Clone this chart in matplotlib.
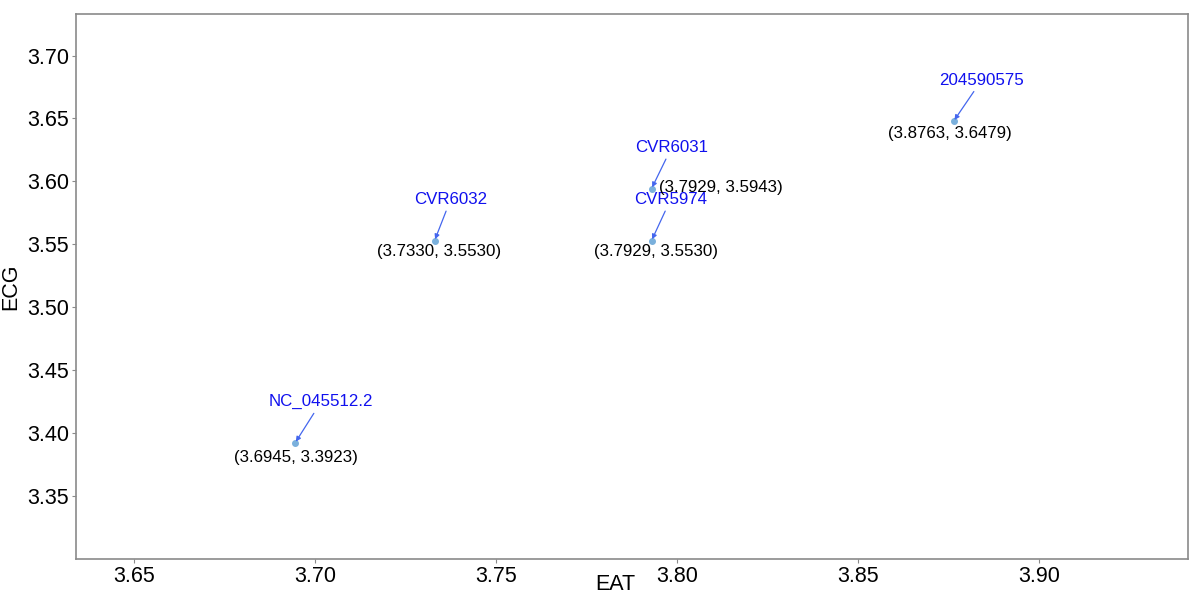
import matplotlib.pyplot as plt

plt.rcParams['font.family'] = ['Liberation Sans', 'DejaVu Sans']

# samples: EAT on x, ECG on y
names = ['NC_045512.2', 'CVR6032', 'CVR5974', 'CVR6031', '204590575']
eat = [3.6945, 3.7330, 3.7929, 3.7929, 3.8763]
ecg = [3.3923, 3.5530, 3.5530, 3.5943, 3.6479]

# label offsets in pixels (name label, coordinate label)
name_off = [(26, 41), (16, 41), (19, 41), (20, 41), (28, 41)]
coord_off = [(1, -15), (4, -11), (4, -11), (7, 1), (-4, -12)]
coord_ha = ['center', 'center', 'center', 'left', 'center']

fig = plt.figure(figsize=(11.94, 5.93), dpi=100)
ax = fig.add_axes([76 / 1194, 1 - 559 / 593, 1112 / 1194, 545 / 593])

ax.scatter(eat, ecg, s=16, color='#7ab0dc', zorder=3)

for i, name in enumerate(names):
    ax.annotate(name, (eat[i], ecg[i]), xytext=name_off[i],
                textcoords='offset pixels', ha='center', va='center',
                color='#1010ee', fontsize=12.2,
                arrowprops=dict(arrowstyle='-|>', color='#4466ee', lw=0.9,
                                mutation_scale=7, shrinkA=1, shrinkB=1))
    ax.annotate('({:.4f}, {:.4f})'.format(eat[i], ecg[i]), (eat[i], ecg[i]),
                xytext=coord_off[i], textcoords='offset pixels',
                ha=coord_ha[i], va='center', color='black', fontsize=12.2)

ax.set_xlim(3.634, 3.941)
ax.set_ylim(3.300, 3.733)
ax.set_xticks([3.65, 3.70, 3.75, 3.80, 3.85, 3.90])
ax.set_yticks([3.35, 3.40, 3.45, 3.50, 3.55, 3.60, 3.65, 3.70])
ax.xaxis.set_major_formatter(plt.FormatStrFormatter('%.2f'))
ax.yaxis.set_major_formatter(plt.FormatStrFormatter('%.2f'))

for sp in ax.spines.values():
    sp.set_color('#8a8a8a')
    sp.set_linewidth(1.2)
ax.tick_params(length=3, width=0.8, color='#8a8a8a', labelsize=15.5,
               labelcolor='black', pad=2)

ax.set_xlabel('EAT', fontsize=15.5)
ax.xaxis.set_label_coords(0.485, -0.027)
ax.set_ylabel('ECG', fontsize=15.5, labelpad=4)

fig.savefig('out.png', dpi=100)
